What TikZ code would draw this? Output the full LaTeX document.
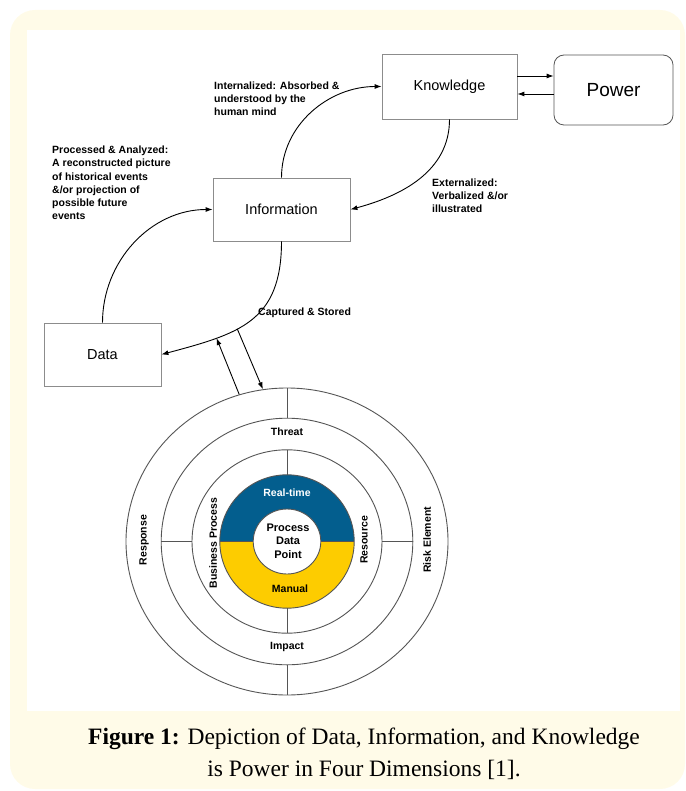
\documentclass[tikz,border=0pt]{standalone}
\usepackage{fontspec}
\setmainfont{Liberation Serif}
\setsansfont{Liberation Sans}
\usepackage{tikz}
\usetikzlibrary{calc,arrows.meta,shapes.geometric}

\definecolor{bgyellow}{RGB}{255,251,232}
\definecolor{boxgray}{RGB}{140,140,140}
\definecolor{ringgray}{RGB}{85,85,85}
\definecolor{rtblue}{RGB}{3,94,142}
\definecolor{mangold}{RGB}{253,204,0}

\tikzset{
  box/.style={draw=boxgray, line width=0.8pt, inner sep=0,
    font=\sffamily\fontsize{14.5}{17}\selectfont},
  lbl/.style={font=\sffamily\bfseries\fontsize{10.5}{13.2}\selectfont,
    align=left, anchor=west, inner sep=0},
  ringlbl/.style={font=\sffamily\bfseries\fontsize{10.5}{13.3}\selectfont,
    align=center, inner sep=0},
  ring/.style={draw=ringgray, line width=0.9pt},
  arr/.style={line width=0.9pt, -{Latex[length=7pt,width=5pt]}}
}

\begin{document}
\begin{tikzpicture}[x=1pt,y=1pt]
            \useasboundingbox (0,0) rectangle (685,-791);
            % frame
            \fill[bgyellow, rounded corners=25] (10,-10) rectangle (685,-789);
            \fill[white] (27,-30) rectangle (680,-711);

            % boxes
            \node[box, minimum width=135, minimum height=65] (know) at (449.5,-86.5) {Knowledge};
            \node[box, draw=ringgray, rounded corners=10, minimum width=119, minimum height=70,
                  font=\sffamily\fontsize{19}{22}\selectfont] (power) at (613.5,-90) {Power};
            \node[box, minimum width=137, minimum height=63] (info) at (281.5,-209.5) {Information};
            \node[box, minimum width=117, minimum height=63] (data) at (102.5,-354.5) {Data};

            % knowledge <-> power
            \draw[arr] ([yshift=10.5]know.east) -- ([yshift=10.5]know.east -| power.west);
            \draw[arr] ([yshift=-4]power.west) -- ([yshift=-4]power.west -| know.east);

            % the cycle
            \draw[arr] (data.north) to[out=90, in=180] (info.west);
            \draw[arr] (info.north) to[out=90, in=180] (know.west);
            \draw[arr] (know.south) to[out=-90, in=15] (info.east);
            \draw[arr] (info.south) to[out=-90, in=15, looseness=1.25]
                coordinate[pos=0.6] (capA) coordinate[pos=0.73] (capB) (data.east);

            \node[lbl] (processed) at (52,-183) {Processed \& Analyzed:\\A reconstructed picture\\of historical events\\\&/or projection of\\possible future\\events};
            \node[lbl] (internal) at (214,-98.5) {Internalized: Absorbed \&\\understood by the\\human mind};
            \node[lbl] (external) at (432,-196) {Externalized:\\Verbalized \&/or\\illustrated};
            \node[lbl] (captured) at (258,-313) {Captured \& Stored};

            % the four dimensions
            \node[ellipse, ring, minimum width=322, minimum height=307, inner sep=0] (outer) at (287,-541.5) {};
            \draw[ring] (287,-541.5) ellipse [x radius=125.8, y radius=123.3];
            \draw[ring] (287,-541.5) ellipse [x radius=95, y radius=91.7];
            \fill[rtblue] (219.8,-541.5) arc[start angle=180, end angle=0, x radius=67.2, y radius=66.7] -- cycle;
            \fill[mangold] (219.8,-541.5) arc[start angle=180, end angle=360, x radius=67.2, y radius=66.7] -- cycle;
            \draw[ring] (287,-541.5) ellipse [x radius=67.2, y radius=66.7];
            \draw[ring] (219.8,-541.5) -- (354.2,-541.5);
            \filldraw[ring, fill=white] (287,-541.5) ellipse [x radius=33.8, y radius=32.5];

            \draw[ring] (287,-388) -- (287,-418.2);
            \draw[ring] (287,-664.8) -- (287,-695);
            \draw[ring] (287,-449.8) -- (287,-474.8);
            \draw[ring] (287,-608.2) -- (287,-633.2);
            \draw[ring] (161.2,-541.5) -- (192,-541.5);
            \draw[ring] (382,-541.5) -- (412.8,-541.5);

            \node[ringlbl] (threat) at (287,-432) {Threat};
            \node[ringlbl] (impact) at (287,-647) {Impact};
            \node[ringlbl, rotate=90] (response) at (144,-540) {Response};
            \node[ringlbl, rotate=90] (risk) at (427,-540) {Risk Element};
            \node[ringlbl, rotate=90] (business) at (213,-543) {Business Process};
            \node[ringlbl, rotate=90] (resource) at (364,-540) {Resource};
            \node[ringlbl, text=white] (realtime) at (287,-493) {Real-time};
            \node[ringlbl] (manual) at (290,-589) {Manual};
            \node[ringlbl, font=\sffamily\bfseries\fontsize{11}{13.3}\selectfont] (pdp) at (288,-541) {Process\\Data\\Point};

            % stored and fed back
            \draw[arr] (capA) -- (outer.99);
            \draw[arr] (outer.108) -- (capB);

            % caption
            \node[font=\fontsize{23.5}{32}\selectfont, align=center, inner sep=0] (caption) at (364,-754)
                {\textbf{Figure 1:} Depiction of Data, Information, and Knowledge\\is Power in Four Dimensions [1].};
\end{tikzpicture}
\end{document}
